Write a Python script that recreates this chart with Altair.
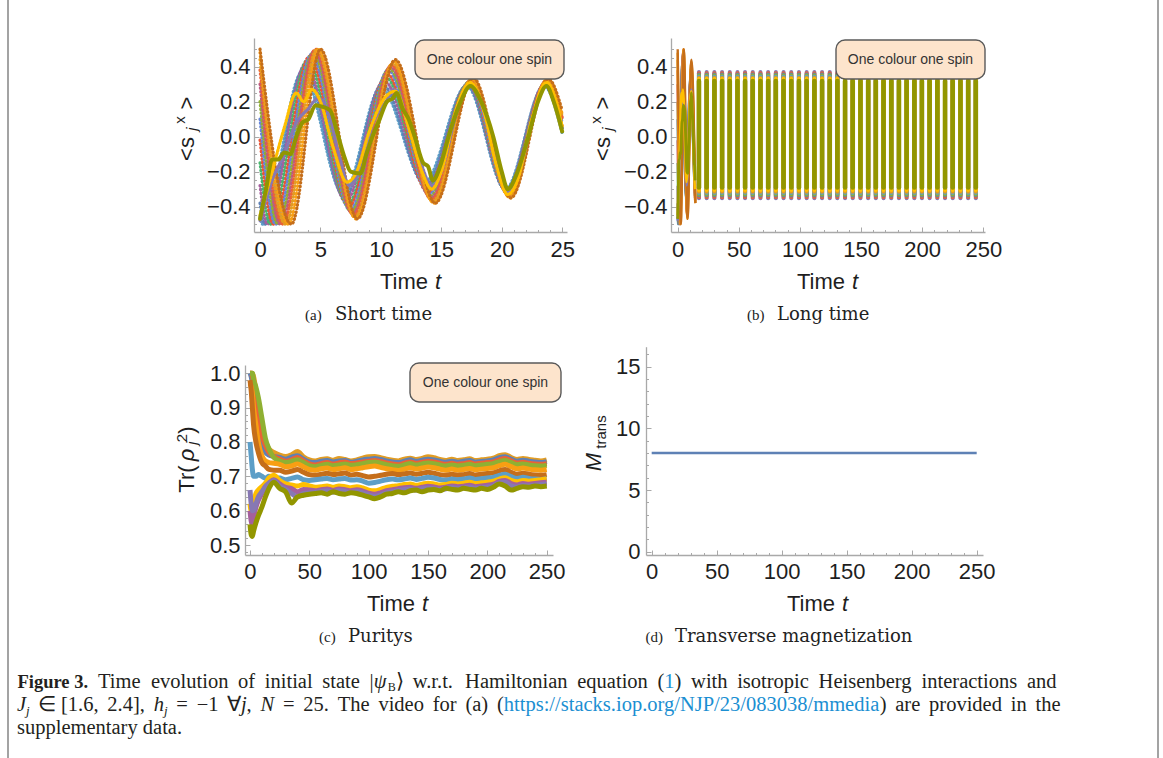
import altair as alt
import pandas as pd

W, H = 1163, 758

# ======================= DATA =======================
# (a) <s_j^x> short time: turning points (time, value) of each spin's curve
FAN_COLORS = ["#5D9EC7", "#5E81B5", "#A5609D", "#47B66D", "#E95536", "#6685D9",
              "#8FB032", "#BC5B80", "#EB6235", "#E19C24", "#F89F13", "#C56E1A"]
FAN_T = [
    [0, 0.2, 3.5, 6.9, 10.0, 13.6, 17.1, 20.3, 23.5, 25],
    [0, 0.4, 3.7, 7.0, 10.1, 13.7, 17.15, 20.35, 23.53, 25],
    [0, 0.6, 3.8, 7.1, 10.25, 13.8, 17.2, 20.4, 23.56, 25],
    [0, 0.85, 3.95, 7.25, 10.4, 13.85, 17.25, 20.45, 23.6, 25],
    [0, 1.1, 4.1, 7.35, 10.5, 13.9, 17.3, 20.48, 23.62, 25],
    [0, 1.3, 4.25, 7.45, 10.6, 14.0, 17.35, 20.5, 23.65, 25],
    [0, 1.5, 4.4, 7.55, 10.7, 14.1, 17.4, 20.55, 23.68, 25],
    [0, 1.7, 4.5, 7.65, 10.8, 14.15, 17.45, 20.6, 23.7, 25],
    [0, 1.9, 4.6, 7.75, 10.9, 14.2, 17.5, 20.62, 23.72, 25],
    [0, 2.1, 4.7, 7.85, 11.0, 14.3, 17.55, 20.65, 23.75, 25],
    [0, 2.35, 4.85, 7.95, 11.1, 14.4, 17.6, 20.7, 23.8, 25],
    [0, 2.6, 5.0, 8.05, 11.2, 14.5, 17.65, 20.75, 23.85, 25],
]
FAN_V = [
    [-0.46, -0.5, 0.37, -0.33, 0.28, -0.26, 0.29, -0.30, 0.29, 0.02],
    [-0.38, -0.5, 0.40, -0.35, 0.30, -0.28, 0.295, -0.305, 0.295, 0.03],
    [-0.28, -0.5, 0.42, -0.37, 0.32, -0.29, 0.30, -0.31, 0.30, 0.04],
    [-0.15, -0.5, 0.44, -0.39, 0.34, -0.30, 0.305, -0.315, 0.30, 0.05],
    [-0.02, -0.5, 0.46, -0.40, 0.36, -0.32, 0.31, -0.32, 0.305, 0.06],
    [0.10, -0.5, 0.47, -0.42, 0.38, -0.33, 0.315, -0.325, 0.31, 0.08],
    [0.20, -0.5, 0.48, -0.43, 0.39, -0.34, 0.32, -0.33, 0.315, 0.09],
    [0.30, -0.5, 0.49, -0.44, 0.40, -0.35, 0.32, -0.335, 0.32, 0.10],
    [0.38, -0.5, 0.50, -0.45, 0.41, -0.36, 0.325, -0.34, 0.32, 0.11],
    [0.44, -0.5, 0.50, -0.46, 0.42, -0.37, 0.33, -0.345, 0.325, 0.12],
    [0.48, -0.5, 0.50, -0.47, 0.43, -0.38, 0.33, -0.35, 0.33, 0.13],
    [0.50, -0.5, 0.50, -0.47, 0.44, -0.38, 0.335, -0.35, 0.33, 0.15],
]
PURPLE_T = [0, 1.0, 2.0, 3.0, 4.0, 4.8, 5.6, 6.6, 7.4, 8.2, 9.2, 10.4, 11.1, 12.2,
            13.3, 14.2, 15.0, 16.2, 17.4, 18.5, 19.5, 20.5, 21.3, 22.5, 23.7, 24.5, 25]
PURPLE_V = [-0.48, -0.25, -0.1, 0.08, 0.16, 0.22, 0.15, -0.12, -0.28, -0.2, 0.05, 0.2, 0.27, 0.08,
            -0.15, -0.28, -0.2, 0.12, 0.3, 0.13, -0.15, -0.32, -0.24, 0.08, 0.3, 0.18, 0.05]
YELLOW_T = [0, 1.0, 2.0, 3.0, 3.6, 4.3, 5.0, 6.0, 7.2, 8.0, 9.0, 10.3, 11.2, 12.3,
            13.4, 14.2, 15.0, 16.2, 17.4, 18.5, 19.5, 20.5, 21.3, 22.5, 23.7, 24.5, 25]
YELLOW_V = [-0.45, -0.2, 0.05, 0.25, 0.2, 0.27, 0.2, -0.05, -0.26, -0.2, 0.02, 0.22, 0.26, 0.05,
            -0.2, -0.3, -0.2, 0.15, 0.31, 0.15, -0.15, -0.33, -0.25, 0.1, 0.31, 0.2, 0.06]
OLIVE_T = [0, 0.5, 1.0, 1.5, 2.0, 2.5, 3.0, 3.5, 4.0, 4.6, 5.2, 5.8, 6.4, 7.0, 7.5, 8.3, 8.8,
           9.3, 9.9, 10.5, 11.0, 11.3, 11.8, 12.3, 12.8, 13.5, 13.9, 14.3, 14.9, 15.6, 16.6,
           17.4, 18.3, 19.3, 20.0, 20.5, 21.2, 22.2, 23.0, 23.7, 24.3, 25]
OLIVE_V = [-0.47, -0.3, -0.13, -0.13, -0.09, -0.1, 0.0, 0.08, 0.1, 0.18, 0.17, 0.15, 0.02, -0.12,
           -0.2, -0.21, -0.1, 0.0, 0.1, 0.2, 0.22, 0.25, 0.16, 0.1, 0.0, -0.15, -0.17, -0.25,
           -0.17, 0.0, 0.2, 0.29, 0.2, 0.0, -0.2, -0.3, -0.22, 0.0, 0.2, 0.29, 0.2, 0.03]
PURPLE_C, YELLOW_C, OLIVE_C = "#8778B3", "#FFBF00", "#929600"

# (b) long time: after the transient every oscillation of period ~2*pi is one dense stroke
# running from the trough to the crest; times of those oscillations
B_OSC_T = [17.4, 23.7, 30.0, 36.3, 42.6, 48.9, 55.1, 61.4, 67.7, 74.0, 80.3, 86.6, 92.9,
           99.2, 105.5, 111.8, 118.1, 124.4, 130.6, 136.9, 143.2, 149.5, 155.8, 162.1,
           168.4, 174.7, 181.0, 187.3, 193.6, 199.8, 206.1, 212.4, 218.7, 225.0, 231.3,
           237.6, 243.9]
# (colour, trough, crest) of the spins visible at the tips of the strokes
B_TIPS = [("#8778B3", -0.352, 0.370), ("#EB6235", -0.345, 0.362), ("#5E81B5", -0.337, 0.356),
          ("#8FB032", -0.330, 0.350), ("#5D9EC7", -0.322, 0.342), ("#E19C24", -0.315, 0.335),
          ("#FFBF00", -0.305, 0.330)]
B_OLIVE = (-0.29, 0.318)
B_TRANSIENT_END = 14.6

# (c) purity Tr(rho_j^2)
C_T_EARLY = [0, 1, 2, 3, 5, 7, 10, 13, 16, 20]
C_T_LATE = list(range(25, 251, 5))
C_NAMES = ["orange", "blue", "red", "green", "orange2", "brown", "lightblue",
           "yellow", "magenta", "purple", "olive"]
C_COLORS = ["#E19C24", "#5E81B5", "#EB6235", "#8FB032", "#F89F13", "#C56E1A", "#5D9EC7",
            "#FFBF00", "#A5609D", "#8778B3", "#929600"]
C_EARLY = {
    "orange":    [1.0, 1.0, 1.0, 0.99, 0.95, 0.90, 0.84, 0.80, 0.78, 0.77],
    "blue":      [1.0, 0.99, 0.97, 0.93, 0.87, 0.83, 0.79, 0.77, 0.762, 0.758],
    "red":       [1.0, 1.0, 0.99, 0.97, 0.92, 0.87, 0.82, 0.79, 0.77, 0.758],
    "green":     [1.0, 1.0, 1.0, 0.98, 0.96, 0.93, 0.87, 0.81, 0.78, 0.755],
    "orange2":   [0.97, 0.96, 0.94, 0.90, 0.85, 0.80, 0.76, 0.745, 0.74, 0.738],
    "brown":     [0.98, 0.95, 0.90, 0.85, 0.80, 0.77, 0.74, 0.73, 0.72, 0.718],
    "lightblue": [0.80, 0.76, 0.72, 0.70, 0.70, 0.705, 0.70, 0.695, 0.70, 0.697],
    "yellow":    [0.62, 0.60, 0.60, 0.62, 0.65, 0.66, 0.67, 0.68, 0.695, 0.703],
    "magenta":   [0.60, 0.57, 0.56, 0.58, 0.61, 0.63, 0.65, 0.67, 0.68, 0.69],
    "purple":    [0.66, 0.62, 0.60, 0.60, 0.62, 0.64, 0.655, 0.67, 0.68, 0.688],
    "olive":     [0.56, 0.53, 0.525, 0.54, 0.565, 0.585, 0.61, 0.64, 0.665, 0.683],
}
C_LATE = {
    "orange": [0.762, 0.758, 0.763, 0.772, 0.757, 0.748, 0.745, 0.749, 0.751, 0.747,
               0.752, 0.749, 0.745, 0.748, 0.753, 0.757, 0.758, 0.754, 0.750, 0.747,
               0.745, 0.750, 0.753, 0.749, 0.752, 0.757, 0.754, 0.749, 0.746, 0.750,
               0.746, 0.748, 0.751, 0.746, 0.748, 0.750, 0.753, 0.760, 0.763, 0.755,
               0.749, 0.752, 0.749, 0.747, 0.745, 0.748],
    "blue": [0.755, 0.750, 0.756, 0.760, 0.750, 0.742, 0.740, 0.744, 0.746, 0.742,
             0.745, 0.746, 0.741, 0.744, 0.748, 0.750, 0.752, 0.749, 0.745, 0.742,
             0.740, 0.744, 0.748, 0.744, 0.747, 0.750, 0.748, 0.744, 0.741, 0.744,
             0.741, 0.744, 0.746, 0.741, 0.743, 0.745, 0.748, 0.754, 0.757, 0.750,
             0.744, 0.747, 0.744, 0.742, 0.740, 0.743],
    "red": [0.750, 0.744, 0.748, 0.755, 0.745, 0.736, 0.733, 0.737, 0.740, 0.736,
            0.739, 0.742, 0.737, 0.739, 0.742, 0.744, 0.746, 0.743, 0.739, 0.736,
            0.734, 0.738, 0.742, 0.738, 0.741, 0.744, 0.742, 0.738, 0.735, 0.738,
            0.735, 0.737, 0.740, 0.736, 0.738, 0.740, 0.742, 0.748, 0.752, 0.745,
            0.739, 0.741, 0.738, 0.736, 0.735, 0.737],
    "green": [0.745, 0.740, 0.744, 0.748, 0.740, 0.731, 0.728, 0.732, 0.735, 0.731,
              0.733, 0.736, 0.732, 0.734, 0.737, 0.740, 0.742, 0.738, 0.734, 0.731,
              0.729, 0.733, 0.737, 0.733, 0.736, 0.739, 0.737, 0.733, 0.730, 0.733,
              0.730, 0.732, 0.735, 0.731, 0.733, 0.735, 0.737, 0.743, 0.746, 0.740,
              0.734, 0.736, 0.733, 0.731, 0.730, 0.732],
    "orange2": [0.735, 0.728, 0.730, 0.736, 0.728, 0.720, 0.718, 0.722, 0.724, 0.720,
                0.722, 0.725, 0.720, 0.722, 0.725, 0.728, 0.730, 0.726, 0.722, 0.719,
                0.717, 0.721, 0.725, 0.721, 0.724, 0.727, 0.725, 0.721, 0.718, 0.721,
                0.718, 0.720, 0.723, 0.719, 0.721, 0.723, 0.725, 0.731, 0.735, 0.728,
                0.722, 0.724, 0.721, 0.719, 0.718, 0.720],
    "brown": [0.718, 0.712, 0.715, 0.720, 0.712, 0.705, 0.703, 0.706, 0.709, 0.705,
              0.707, 0.710, 0.704, 0.706, 0.702, 0.698, 0.700, 0.703, 0.706, 0.708,
              0.705, 0.707, 0.710, 0.706, 0.709, 0.712, 0.709, 0.705, 0.703, 0.706,
              0.703, 0.705, 0.708, 0.704, 0.706, 0.708, 0.710, 0.716, 0.720, 0.712,
              0.706, 0.709, 0.706, 0.704, 0.703, 0.705],
    "lightblue": [0.695, 0.690, 0.694, 0.698, 0.690, 0.688, 0.690, 0.692, 0.694, 0.690,
                  0.692, 0.694, 0.689, 0.690, 0.686, 0.680, 0.682, 0.686, 0.690, 0.692,
                  0.690, 0.692, 0.695, 0.691, 0.694, 0.697, 0.695, 0.691, 0.689, 0.692,
                  0.690, 0.692, 0.695, 0.691, 0.693, 0.695, 0.697, 0.703, 0.706, 0.699,
                  0.694, 0.697, 0.694, 0.692, 0.691, 0.693],
    "yellow": [0.688, 0.678, 0.675, 0.672, 0.676, 0.672, 0.668, 0.670, 0.672, 0.668,
               0.672, 0.670, 0.667, 0.670, 0.666, 0.660, 0.658, 0.662, 0.668, 0.671,
               0.673, 0.676, 0.678, 0.674, 0.677, 0.680, 0.678, 0.675, 0.676, 0.680,
               0.678, 0.680, 0.683, 0.679, 0.681, 0.683, 0.686, 0.692, 0.696, 0.688,
               0.684, 0.688, 0.686, 0.688, 0.690, 0.692],
    "magenta": [0.678, 0.668, 0.664, 0.655, 0.662, 0.660, 0.658, 0.661, 0.663, 0.659,
                0.663, 0.661, 0.658, 0.661, 0.657, 0.651, 0.648, 0.652, 0.658, 0.661,
                0.664, 0.667, 0.668, 0.665, 0.668, 0.671, 0.669, 0.666, 0.668, 0.672,
                0.670, 0.671, 0.674, 0.670, 0.672, 0.674, 0.677, 0.685, 0.688, 0.679,
                0.675, 0.679, 0.677, 0.679, 0.681, 0.683],
    "purple": [0.672, 0.662, 0.650, 0.640, 0.650, 0.652, 0.653, 0.656, 0.658, 0.654,
               0.659, 0.656, 0.653, 0.656, 0.652, 0.646, 0.642, 0.646, 0.652, 0.655,
               0.659, 0.662, 0.663, 0.660, 0.664, 0.666, 0.664, 0.661, 0.664, 0.668,
               0.665, 0.666, 0.669, 0.665, 0.667, 0.669, 0.672, 0.681, 0.683, 0.672,
               0.669, 0.673, 0.672, 0.674, 0.676, 0.678],
    "olive": [0.665, 0.655, 0.622, 0.640, 0.645, 0.648, 0.650, 0.652, 0.648, 0.655,
              0.650, 0.648, 0.652, 0.650, 0.645, 0.640, 0.635, 0.640, 0.648, 0.650,
              0.655, 0.652, 0.658, 0.660, 0.655, 0.660, 0.662, 0.658, 0.665, 0.662,
              0.660, 0.665, 0.662, 0.660, 0.665, 0.662, 0.668, 0.678, 0.672, 0.660,
              0.665, 0.670, 0.668, 0.672, 0.670, 0.672],
}

# (d) transverse magnetization
D_T = [0, 250]
D_M = [8.0, 8.0]
D_COLOR = "#5E81B5"

# ======================= LAYOUT =======================
TICK_FONT = "Liberation Sans"
LABEL_COLOR = "#1e1e1e"
AX_COLOR = "#a9a9a9"

PANELS = {
    "a": dict(xd=[-0.5, 25.4], xr=[254, 567], yd=[-0.545, 0.564], yr=[232, 38],
              xmaj=[0, 5, 10, 15, 20, 25], xmin=[i for i in range(0, 26) if i % 5],
              ymaj=[-0.4, -0.2, 0.0, 0.2, 0.4],
              ymin=[k / 100 for k in range(-50, 55, 5) if k % 20],
              xfmt="d", yfmt=".1f", xpad=7, ypad=4),
    "b": dict(xd=[-5.48, 251.4], xr=[671, 985], yd=[-0.545, 0.564], yr=[232, 38],
              xmaj=[0, 50, 100, 150, 200, 250], xmin=[i for i in range(0, 251, 10) if i % 50],
              ymaj=[-0.4, -0.2, 0.0, 0.2, 0.4],
              ymin=[k / 100 for k in range(-50, 55, 5) if k % 20],
              xfmt="d", yfmt=".1f", xpad=7, ypad=4),
    "c": dict(xd=[-4.21, 255.3], xr=[245, 553], yd=[0.4709, 1.0242], yr=[555, 365],
              xmaj=[0, 50, 100, 150, 200, 250], xmin=[i for i in range(0, 251, 10) if i % 50],
              ymaj=[0.5, 0.6, 0.7, 0.8, 0.9, 1.0],
              ymin=[k / 100 for k in range(48, 102, 2) if k % 10],
              xfmt="d", yfmt=".1f", xpad=6, ypad=5),
    "d": dict(xd=[-4.38, 254.85], xr=[646, 983], yd=[-0.268, 16.62], yr=[555, 346.7],
              xmaj=[0, 50, 100, 150, 200, 250], xmin=[i for i in range(0, 251, 10) if i % 50],
              ymaj=[0, 5, 10, 15], ymin=[i for i in range(0, 17) if i % 5],
              xfmt="d", yfmt="d", xpad=6, ypad=6),
}


def scales(p):
    g = PANELS[p]
    xs = alt.Scale(domain=g["xd"], range=g["xr"], nice=False, zero=False)
    ys = alt.Scale(domain=g["yd"], range=g["yr"], nice=False, zero=False)
    return xs, ys


def axis_layers(p):
    g = PANELS[p]
    xs, ys = scales(p)
    left, bottom = g["xr"][0], g["yr"][0]
    dummy = pd.DataFrame({"x": [g["xd"][0]], "y": [g["yd"][0]]})
    base = alt.Chart(dummy).mark_point(opacity=0)
    lab_common = dict(labelFont=TICK_FONT, labelFontSize=22, labelColor=LABEL_COLOR,
                      ticks=False, tickSize=0, domain=False, grid=False, title=None,
                      labelFlush=False, labelOverlap=False)
    lab = base.encode(
        x=alt.X("x:Q", scale=xs, axis=alt.Axis(orient="bottom", offset=bottom - H,
                                                values=g["xmaj"], format=g["xfmt"],
                                                labelPadding=g["xpad"], **lab_common)),
        y=alt.Y("y:Q", scale=ys, axis=alt.Axis(orient="left", offset=-left,
                                                values=g["ymaj"], format=g["yfmt"],
                                                labelPadding=g["ypad"], **lab_common)),
    )
    tick_common = dict(labels=False, grid=False, title=None, tickColor=AX_COLOR, tickWidth=1)
    maj = base.encode(
        x=alt.X("x:Q", scale=xs, axis=alt.Axis(orient="top", offset=-bottom, values=g["xmaj"],
                                                tickSize=5, domain=True, domainColor=AX_COLOR,
                                                domainWidth=1.3, **tick_common)),
        y=alt.Y("y:Q", scale=ys, axis=alt.Axis(orient="right", offset=left - W, values=g["ymaj"],
                                                tickSize=5, domain=True, domainColor=AX_COLOR,
                                                domainWidth=1.3, **tick_common)),
    )
    mnr = base.encode(
        x=alt.X("x:Q", scale=xs, axis=alt.Axis(orient="top", offset=-bottom, values=g["xmin"],
                                                tickSize=2.5, domain=False, **tick_common)),
        y=alt.Y("y:Q", scale=ys, axis=alt.Axis(orient="right", offset=left - W, values=g["ymin"],
                                                tickSize=2.5, domain=False, **tick_common)),
    )
    return [lab, maj, mnr]


def series_df(items):
    rows = []
    for name, color, ts, vs in items:
        for t, v in zip(ts, vs):
            rows.append({"s": name, "c": color, "t": t, "v": v})
    return pd.DataFrame(rows)


def line_layer(p, df, **mark):
    xs, ys = scales(p)
    return alt.Chart(df).mark_line(interpolate="monotone", **mark).encode(
        x=alt.X("t:Q", scale=xs, axis=None),
        y=alt.Y("v:Q", scale=ys, axis=None),
        color=alt.Color("c:N", scale=None, legend=None),
        detail="s:N",
    )


# ---------- panel (a) ----------
fan_a = series_df([(f"fan{k}", FAN_COLORS[k], FAN_T[k], FAN_V[k]) for k in range(len(FAN_T))])
layers_a = axis_layers("a") + [
    line_layer("a", fan_a, strokeWidth=3.2, strokeDash=[0.5, 3.2], strokeCap="round"),
    line_layer("a", series_df([("purple", PURPLE_C, PURPLE_T, PURPLE_V)]), strokeWidth=3.2,
               strokeDash=[1.5, 2], strokeCap="round"),
    line_layer("a", series_df([("yellow", YELLOW_C, YELLOW_T, YELLOW_V)]), strokeWidth=3.2,
               strokeDash=[1.5, 2], strokeCap="round"),
    line_layer("a", series_df([("olive", OLIVE_C, OLIVE_T, OLIVE_V)]), strokeWidth=4, strokeCap="round"),
]


# ---------- panel (b) ----------
def early(ts, vs):
    keep = [(t, v) for t, v in zip(ts, vs) if t <= B_TRANSIENT_END]
    return [k[0] for k in keep], [k[1] for k in keep]


fan_b_items = []
for k in range(len(FAN_T)):
    tb, vb = early(FAN_T[k], FAN_V[k])
    fan_b_items.append((f"fan{k}", FAN_COLORS[k], tb, vb))
xs_b, ys_b = scales("b")
tip_rows = [{"t": t, "lo": lo, "hi": hi, "c": c} for c, lo, hi in B_TIPS for t in B_OSC_T]
olive_rows = [{"t": t, "lo": B_OLIVE[0], "hi": B_OLIVE[1], "c": OLIVE_C} for t in B_OSC_T]


def osc_layer(rows, width):
    return alt.Chart(pd.DataFrame(rows)).mark_rule(strokeWidth=width, strokeCap="round").encode(
        x=alt.X("t:Q", scale=xs_b, axis=None),
        y=alt.Y("lo:Q", scale=ys_b, axis=None),
        y2="hi:Q",
        color=alt.Color("c:N", scale=None, legend=None),
    )


layers_b = axis_layers("b") + [
    line_layer("b", series_df(fan_b_items), strokeWidth=2.4),
    line_layer("b", series_df([("purple", PURPLE_C) + early(PURPLE_T, PURPLE_V)]), strokeWidth=2.4),
    line_layer("b", series_df([("yellow", YELLOW_C) + early(YELLOW_T, YELLOW_V)]), strokeWidth=2.4),
    line_layer("b", series_df([("olive", OLIVE_C) + early(OLIVE_T, OLIVE_V)]), strokeWidth=2.8),
    osc_layer(tip_rows, 4.0),
    osc_layer(olive_rows, 4.6),
]

# ---------- panel (c) ----------
c_items = [(n, C_COLORS[i], C_T_EARLY + C_T_LATE, C_EARLY[n] + C_LATE[n]) for i, n in enumerate(C_NAMES)]
layers_c = axis_layers("c") + [
    line_layer("c", series_df(c_items[:7]), strokeWidth=5, strokeJoin="round"),
    line_layer("c", series_df(c_items[7:10]), strokeWidth=5, strokeJoin="round"),
    line_layer("c", series_df(c_items[10:]), strokeWidth=5, strokeJoin="round"),
]

# ---------- panel (d) ----------
layers_d = axis_layers("d") + [
    line_layer("d", series_df([("M", D_COLOR, D_T, D_M)]), strokeWidth=2.5),
]

# ---------- legend boxes & frame ----------
one = pd.DataFrame({"k": [0]})
BOXES = [(415, 564, 40, 79), (836, 985, 40, 79), (410, 561, 363, 402)]
box_layers = []
for x0, x1, y0, y1 in BOXES:
    box_layers.append(alt.Chart(one).mark_rect(cornerRadius=9, fill="#FDE4CC", stroke="#5a5a5a",
                                               strokeWidth=1.4).encode(
        x=alt.value(x0), x2=alt.value(x1), y=alt.value(y0), y2=alt.value(y1)))

frame_layers = [
    alt.Chart(one).mark_rule(color="#8c8c8c", strokeWidth=1.6).encode(
        x=alt.value(8), y=alt.value(0), y2=alt.value(H)),
    alt.Chart(one).mark_rule(color="#8c8c8c", strokeWidth=1.6).encode(
        x=alt.value(1158), y=alt.value(0), y2=alt.value(H)),
]

# ---------- text ----------
SANS = "Liberation Sans"
SERIF = "Liberation Serif"
CM = "DejaVu Serif"
CAP_COLOR = "#231f20"
LINK = "#1b8fd2"
TEXTS = []


def add(x, y, s, font=SANS, size=22, style="normal", weight="normal", color=LABEL_COLOR,
        align="left", baseline="alphabetic", angle=0):
    TEXTS.append((x, y, s, (font, size, style, weight, color, align, baseline, angle)))


for cx, cy in [(489.5, 59.5), (910.5, 59.5), (485.5, 382.5)]:
    add(cx, cy, "One colour one spin", size=14, color="#333333", align="center", baseline="middle")

for x0, yb in [(380, 289), (797, 289), (367, 611), (787, 611)]:
    add(x0, yb, "Time")
    add(x0 + 55, yb, "t", style="italic")

for dx in [0, 416]:
    add(187 + dx, 149, "<s", align="center", baseline="middle", angle=270)
    add(192 + dx, 129, "j", size=15, style="italic", align="center", baseline="middle", angle=270)
    add(180 + dx, 120, "x", size=15, align="center", baseline="middle", angle=270)
    add(187 + dx, 103, ">", align="center", baseline="middle", angle=270)
add(187, 479, "Tr(", align="center", baseline="middle", angle=270)
add(187, 455, "ρ", style="italic", align="center", baseline="middle", angle=270)
add(192, 443, "j", size=15, style="italic", align="center", baseline="middle", angle=270)
add(182, 438, "2", size=15, align="center", baseline="middle", angle=270)
add(187, 430, ")", align="center", baseline="middle", angle=270)
add(594, 462, "M", style="italic", align="center", baseline="middle", angle=270)
add(601, 432, "trans", size=15, align="center", baseline="middle", angle=270)

for xl, xt, yb, lab, txt in [(305, 335, 320, "(a)", "Short time"), (747, 777, 320, "(b)", "Long time"),
                             (319, 348, 641.5, "(c)", "Puritys"),
                             (645.5, 675, 641.5, "(d)", "Transverse magnetization")]:
    add(xl, yb, lab, font=SERIF, size=15, color="#222222")
    add(xt, yb, txt, font=CM, size=18, color="#222222")

# ---- justified figure caption (Times metrics = Liberation Serif) ----
_LOW = dict(zip("abcdefghijklmnopqrstuvwxyz",
                [0.444, 0.5, 0.444, 0.5, 0.444, 0.333, 0.5, 0.5, 0.278, 0.278, 0.5, 0.278, 0.778,
                 0.5, 0.5, 0.5, 0.5, 0.333, 0.389, 0.278, 0.5, 0.5, 0.722, 0.5, 0.5, 0.444]))
_UP = dict(zip("ABCDEFGHIJKLMNOPQRSTUVWXYZ",
               [0.722, 0.667, 0.667, 0.722, 0.611, 0.556, 0.722, 0.722, 0.333, 0.389, 0.722, 0.611,
                0.889, 0.722, 0.722, 0.556, 0.722, 0.667, 0.556, 0.611, 0.722, 0.722, 0.944, 0.722,
                0.722, 0.611]))
REG_W = {**_LOW, **_UP, " ": 0.25, "(": 0.333, ")": 0.333, ",": 0.25, ".": 0.25, "/": 0.278,
         ":": 0.278, "=": 0.564, "[": 0.333, "]": 0.333, "|": 0.2, "−": 0.564, "∈": 0.667,
         "∀": 0.667, "⟩": 0.36, "ψ": 0.686, **{d: 0.5 for d in "0123456789"}}
ITAL_W = {**REG_W, "J": 0.444, "N": 0.667}
BOLD_W = {**REG_W, "F": 0.611, "u": 0.556, "r": 0.444, "e": 0.444}

CS = 20.5


def piece(s, style="normal", weight="normal", size=CS, color=CAP_COLOR, dy=0):
    return (s, style, weight, size, color, dy)


def pwidth(p):
    s, style, weight, size = p[0], p[1], p[2], p[3]
    table = BOLD_W if weight == "bold" else (ITAL_W if style == "italic" else REG_W)
    return size * sum(table.get(ch, 0.5) for ch in s)


def w(s):
    return [piece(s)]


LINE1 = [[piece("Figure 3.", weight="bold", size=18.5)], w("Time"), w("evolution"), w("of"),
         w("initial"), w("state"),
         [piece("|"), piece("ψ", style="italic"), piece("B", size=12, dy=3), piece("⟩")],
         w("w.r.t."), w("Hamiltonian"), w("equation"),
         [piece("("), piece("1", color=LINK), piece(")")],
         w("with"), w("isotropic"), w("Heisenberg"), w("interactions"), w("and")]
LINE2 = [[piece("J", style="italic"), piece("j", style="italic", size=13, dy=4)], w("∈"),
         w("[1.6,"), w("2.4],"),
         [piece("h", style="italic"), piece("j", style="italic", size=13, dy=4)],
         w("="), w("−1"), [piece("∀"), piece("j", style="italic"), piece(",")],
         [piece("N", style="italic")], w("="), w("25."), w("The"), w("video"), w("for"), w("(a)"),
         [piece("("), piece("https://stacks.iop.org/NJP/23/083038/mmedia", color=LINK), piece(")")],
         w("are"), w("provided"), w("in"), w("the")]
LINE3 = [w("supplementary"), w("data.")]


def place_line(words, x0, x1, yb, justify=True):
    widths = [sum(pwidth(p) for p in wd) for wd in words]
    gap = (x1 - x0 - sum(widths)) / (len(words) - 1) if justify else 0.25 * CS
    x = x0
    for wd, wdt in zip(words, widths):
        xp = x
        for p in wd:
            add(xp, yb + p[5], p[0], font=SERIF, size=p[3], style=p[1], weight=p[2], color=p[4])
            xp += pwidth(p)
        x += wdt + gap


place_line(LINE1, 17.5, 1056.5, 688)
place_line(LINE2, 17, 1060.5, 711)
place_line(LINE3, 17, 0, 734, justify=False)

groups = {}
for x, y, s, st in TEXTS:
    groups.setdefault(st, []).append({"x": x, "y": y, "t": s})
text_layers = []
for (font, size, style, weight, color, align, baseline, angle), rows in groups.items():
    text_layers.append(alt.Chart(pd.DataFrame(rows)).mark_text(
        font=font, fontSize=size, fontStyle=style, fontWeight=weight, color=color,
        align=align, baseline=baseline, angle=angle).encode(
        x=alt.X("x:Q", scale=None, axis=None),
        y=alt.Y("y:Q", scale=None, axis=None),
        text="t:N"))

chart = alt.layer(
    *(layers_a + layers_b + layers_c + layers_d + box_layers + frame_layers + text_layers)
).resolve_scale(
    x="independent", y="independent", color="independent"
).properties(
    width=W, height=H, padding=0, background="white",
    autosize=alt.AutoSizeParams(type="none"),
).configure_view(stroke=None)

chart.save("out.html", embed_options={"renderer": "svg", "actions": False})
